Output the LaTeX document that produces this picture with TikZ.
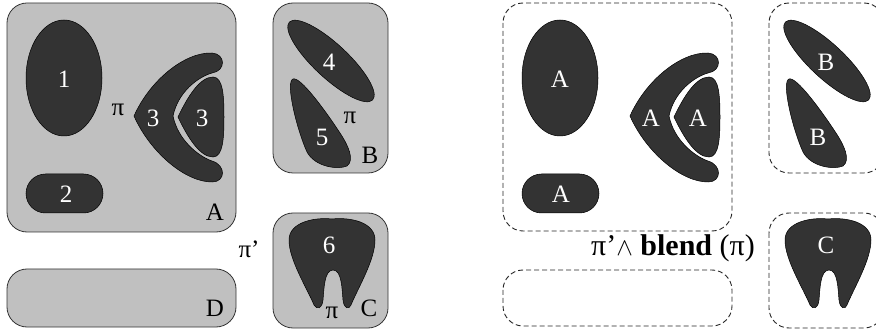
\documentclass[tikz,border=0pt]{standalone}
\usepackage{fontspec}
\setmainfont{Liberation Serif}
\begin{document}
\begin{tikzpicture}[x=1pt,y=-1pt,
  panel/.style={draw=black!80, line width=0.8pt, rounded corners=20pt},
  dpanel/.style={draw=black!85, line width=0.9pt, rounded corners=20pt, dash pattern=on 5pt off 3pt},
  blob/.style={fill=darkblob, draw=black, line width=0.5pt},
  wlab/.style={text=white, font=\fontsize{25}{25}\selectfont, inner sep=0pt},
  blab/.style={text=black, font=\fontsize{25}{25}\selectfont, inner sep=0pt}]
\definecolor{darkblob}{RGB}{51,51,51}
\definecolor{boxgray}{RGB}{192,192,192}
\useasboundingbox (0,0) rectangle (876,331);
% ---------- left panel ----------
\draw[panel, fill=boxgray] (7,3) rectangle (236,232);
\draw[panel, fill=boxgray] (273,3) rectangle (388,173);
\draw[panel, fill=boxgray] (273,213) rectangle (388,328);
\draw[panel, fill=boxgray] (7,269) rectangle (236,327);
\foreach \dx in {0, 496}{
\begin{scope}[shift={(\dx,0)}]
% ellipse 1
\draw[blob] (64,78) ellipse [x radius=38pt, y radius=58pt];
% stadium 2
\draw[blob, rounded corners=19.5pt] (26,174) rectangle (103,213);
% crescent 3
\draw[blob] (134,116) .. controls (150,80) and (185,52) .. (212,53)
  .. controls (226,54) and (226,71) .. (212,73)
  .. controls (198,77) and (178,92) .. (173,116)
  .. controls (178,140) and (198,156) .. (212,161)
  .. controls (226,165) and (226,182) .. (212,182)
  .. controls (185,182) and (150,152) .. (134,116) -- cycle;
% triangle 3
\draw[blob] (178,117) .. controls (188,96) and (200,77) .. (213,77)
  .. controls (223,77) and (224,96) .. (224,117)
  .. controls (224,138) and (223,157) .. (213,157)
  .. controls (200,157) and (188,138) .. (178,117) -- cycle;
% ellipse 4
\draw[blob, rotate around={-43:(331,61)}] (331,61) ellipse [x radius=57pt, y radius=17pt];
% teardrop 5
\draw[blob] (293,79) .. controls (285,82) and (297,130) .. (307,152)
  .. controls (315,167) and (338,170) .. (347,166)
  .. controls (355,160) and (348,145) .. (340,133)
  .. controls (325,110) and (300,76) .. (293,79) -- cycle;
% tooth 6
\draw[blob] (332,219) .. controls (350,217) and (375,222) .. (375,240)
  .. controls (375,260) and (358,288) .. (351,305)
  .. controls (349,310) and (344,309) .. (343,300)
  .. controls (342,290) and (342,270) .. (333,270)
  .. controls (324,270) and (324,290) .. (323,300)
  .. controls (322,309) and (317,310) .. (314,305)
  .. controls (307,288) and (289,260) .. (289,240)
  .. controls (289,222) and (315,217) .. (332,219) -- cycle;
\end{scope}}
% left labels
\node[wlab] (l1) at (64,79) {1};
\node[wlab] (l2) at (66,194) {2};
\node[wlab] (l3a) at (153,118) {3};
\node[wlab] (l3b) at (202,118) {3};
\node[wlab] (l4) at (329,62) {4};
\node[wlab] (l5) at (322,137) {5};
\node[wlab] (l6) at (329,245) {6};
\node[blab] (pi1) at (118,110) {π};
\node[blab] (pi2) at (350,118) {π};
\node[blab] (pi3) at (332,313) {π};
\node[blab] (pip) at (249,249) {π’};
\node[blab] (lA) at (215,212) {A};
\node[blab] (lB) at (370,155) {B};
\node[blab] (lC) at (369,308) {C};
\node[blab] (lD) at (215,308) {D};
% right panel dashed boxes
\draw[dpanel] (503,3) rectangle (732,231);
\draw[dpanel] (769,3) rectangle (884,173);
\draw[dpanel] (769,213) rectangle (884,328);
\draw[dpanel] (503,270) rectangle (732,326);
% right labels
\node[wlab] (r1) at (560,79) {A};
\node[wlab] (r2) at (561,194) {A};
\node[wlab] (r3a) at (651,118) {A};
\node[wlab] (r3b) at (698,118) {A};
\node[wlab] (r4) at (826,62) {B};
\node[wlab] (r5) at (818,137) {B};
\node[wlab] (r6) at (826,245) {C};
\node[blab, font=\fontsize{30}{30}\selectfont] (blend) at (673,248) {π’$\wedge$ \textbf{blend} (π)};
\end{tikzpicture}
\end{document}
